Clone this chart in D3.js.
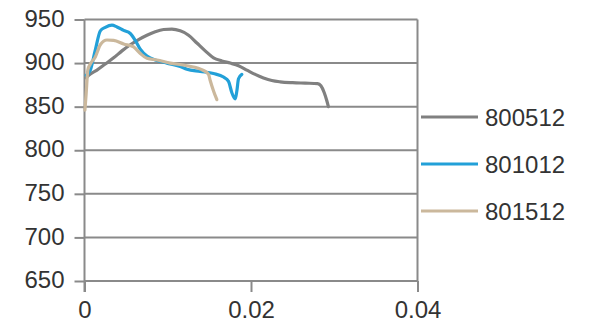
<!DOCTYPE html>
<html>
<head>
<meta charset="utf-8">
<script src="https://cdn.jsdelivr.net/npm/d3@7"></script>
<style>
  html, body { margin: 0; padding: 0; background: #fff; }
  svg { display: block; }
  text { font-family: "Liberation Sans", Arial, sans-serif; fill: #333; }
</style>
</head>
<body>
<svg id="chart" width="592" height="328"></svg>
<script>
// Strain (x) vs. stress (y) curves for three specimens
const seriesNames = ["800512", "801012", "801512"];
const seriesColors = ["#808080", "#22a0d8", "#cbb89c"];

const strain800512 = [0.0002, 0.0005, 0.0015, 0.0025, 0.0035, 0.0045, 0.0055, 0.0065, 0.0075, 0.0085, 0.0095, 0.0105, 0.0115, 0.0125, 0.0135, 0.0145, 0.0155, 0.0165, 0.0175, 0.0185, 0.0195, 0.0205, 0.0215, 0.0225, 0.0235, 0.0250, 0.0265, 0.0280, 0.0284, 0.0288, 0.0291, 0.0293];
const stress800512 = [883, 886, 892, 899, 906, 914, 921, 927, 932, 936, 938.5, 939, 937, 932, 923, 914, 906, 902.5, 900, 897, 892, 887, 883, 880, 878.5, 877.5, 877, 876.5, 874, 866, 857, 850];

const strain801012 = [0.0002, 0.0007, 0.0013, 0.0019, 0.0025, 0.0033, 0.0039, 0.0047, 0.0055, 0.0061, 0.0067, 0.0075, 0.0087, 0.0099, 0.0115, 0.0123, 0.0139, 0.0155, 0.0167, 0.0173, 0.0177, 0.0181, 0.0183, 0.0185, 0.0189];
const stress801012 = [886, 892, 915, 937, 941, 943.5, 941.5, 937.5, 934, 926, 916, 908, 903, 900, 896, 893, 890.5, 888, 884, 879, 866, 859, 868, 882, 887];

const strain801512 = [0.00005, 0.0002, 0.0004, 0.0007, 0.0013, 0.0019, 0.0027, 0.0035, 0.0047, 0.0059, 0.0067, 0.0075, 0.0087, 0.0103, 0.0123, 0.0143, 0.0149, 0.0151, 0.0155, 0.0159];
const stress801512 = [846, 865, 892, 899, 907, 921, 926.5, 926, 922, 918.5, 911, 905.5, 903.5, 900, 897, 891.5, 887, 880, 868, 858];

const xTicks = [0, 0.02, 0.04];
const xTickLabels = ["0", "0.02", "0.04"];
const yTicks = [650, 700, 750, 800, 850, 900, 950];

const series = [
  { name: seriesNames[0], color: seriesColors[0], x: strain800512, y: stress800512 },
  { name: seriesNames[1], color: seriesColors[1], x: strain801012, y: stress801012 },
  { name: seriesNames[2], color: seriesColors[2], x: strain801512, y: stress801512 }
];

const svg = d3.select("#chart");
const plot = { left: 84.5, right: 417.5, top: 19.5, bottom: 281 };

const x = d3.scaleLinear().domain([0, 0.04]).range([plot.left, plot.right]);
const y = d3.scaleLinear().domain([650, 950]).range([plot.bottom, plot.top]);

const gridColor = "#8a8a8a";

// horizontal gridlines
svg.append("g")
  .selectAll("line")
  .data(yTicks)
  .join("line")
  .attr("x1", plot.left).attr("x2", plot.right)
  .attr("y1", d => y(d)).attr("y2", d => y(d))
  .attr("stroke", gridColor).attr("stroke-width", 2);

// right-hand vertical line at the last x tick
svg.append("line")
  .attr("x1", x(0.04)).attr("x2", x(0.04))
  .attr("y1", plot.top).attr("y2", plot.bottom)
  .attr("stroke", gridColor).attr("stroke-width", 2);

// y axis
const yAxis = svg.append("g")
  .attr("transform", `translate(${plot.left},0)`)
  .call(d3.axisLeft(y).tickValues(yTicks).tickSize(10).tickPadding(10).tickFormat(d3.format("d")));
yAxis.select(".domain").attr("stroke", gridColor).attr("stroke-width", 2)
  .attr("d", `M0,${plot.top}V${plot.bottom + 11}`);
yAxis.selectAll(".tick line").attr("stroke", gridColor).attr("stroke-width", 2);
yAxis.selectAll(".tick text")
  .attr("font-size", 24).attr("fill", "#333")
  .attr("font-family", "Liberation Sans, Arial, sans-serif")
  .attr("dy", "0.28em");

// x axis
const xAxis = svg.append("g")
  .attr("transform", `translate(0,${plot.bottom})`)
  .call(d3.axisBottom(x).tickValues(xTicks).tickSize(11).tickPadding(9)
    .tickFormat((d, i) => xTickLabels[i]));
xAxis.select(".domain").remove();
xAxis.selectAll(".tick line").attr("stroke", gridColor).attr("stroke-width", 2);
xAxis.selectAll(".tick text")
  .attr("font-size", 24).attr("fill", "#333")
  .attr("font-family", "Liberation Sans, Arial, sans-serif");

// series lines, lightly smoothed
const line = d3.line().curve(d3.curveMonotoneX).x(d => x(d[0])).y(d => y(d[1]));
svg.append("g")
  .selectAll("path")
  .data(series)
  .join("path")
  .attr("d", s => line(s.x.map((v, i) => [v, s.y[i]])))
  .attr("fill", "none")
  .attr("stroke", s => s.color)
  .attr("stroke-width", 3.2)
  .attr("stroke-linejoin", "round")
  .attr("stroke-linecap", "round");

// legend
const legend = svg.append("g")
  .selectAll("g")
  .data(series)
  .join("g")
  .attr("transform", (s, i) => `translate(421,${117 + i * 47})`);
legend.append("line")
  .attr("x1", 0).attr("x2", 57)
  .attr("stroke", s => s.color).attr("stroke-width", 3.2);
legend.append("text")
  .attr("x", 64).attr("dy", "0.36em")
  .attr("font-size", 24)
  .text(s => s.name);
</script>
</body>
</html>
